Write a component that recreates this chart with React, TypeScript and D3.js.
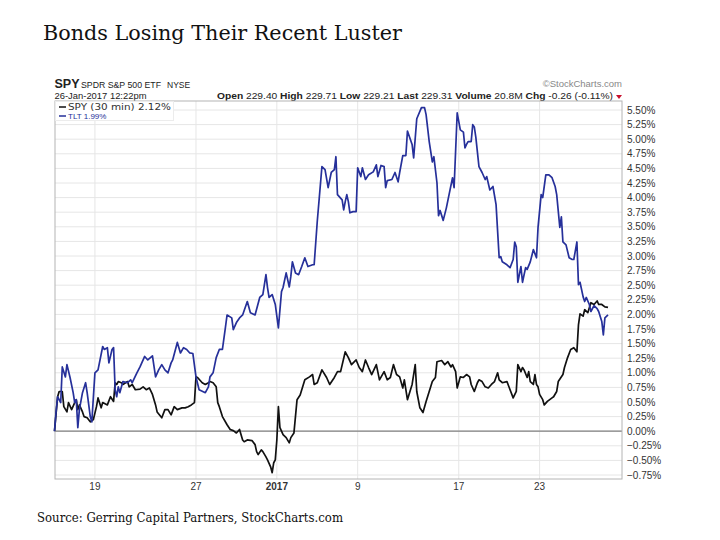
import * as d3 from 'd3'
import React from 'react'

// trading sessions shown on the chart, 30 min bars (13 per session)
const sessions = [
    'Dec 15', 'Dec 16', 'Dec 19', 'Dec 20', 'Dec 21', 'Dec 22', 'Dec 23',
    'Dec 27', 'Dec 28', 'Dec 29', 'Dec 30',
    'Jan 3', 'Jan 4', 'Jan 5', 'Jan 6',
    'Jan 9', 'Jan 10', 'Jan 11', 'Jan 12', 'Jan 13',
    'Jan 17', 'Jan 18', 'Jan 19', 'Jan 20',
    'Jan 23', 'Jan 24', 'Jan 25', 'Jan 26',
]
const barsPerSession = 13

const dateTicks = [
    { session: 'Dec 19', label: '19', bold: false },
    { session: 'Dec 27', label: '27', bold: false },
    { session: 'Jan 3', label: '2017', bold: true },
    { session: 'Jan 9', label: '9', bold: false },
    { session: 'Jan 17', label: '17', bold: false },
    { session: 'Jan 23', label: '23', bold: false },
]

const pctTicks = [
    5.5, 5.25, 5.0, 4.75, 4.5, 4.25, 4.0, 3.75, 3.5, 3.25, 3.0, 2.75, 2.5, 2.25, 2.0,
    1.75, 1.5, 1.25, 1.0, 0.75, 0.5, 0.25, 0.0, -0.25, -0.5, -0.75,
]

// [bar index, % change]
const spy: [number, number][] = [
    [0, 0], [2, 0.59], [3, 0.68], [5, 0.68], [6, 0.42], [8, 0.33], [9, 0.49], [11, 0.37], [13, 0.49],
    [14, 0.54], [15, 0.37], [16, 0.45], [18, 0.33], [19, 0.25], [21, 0.23], [23, 0.16], [25, 0.2],
    [27, 0.42], [28, 0.57], [30, 0.4], [31, 0.49], [34, 0.45], [36, 0.59], [38, 0.51], [39, 0.83],
    [40, 0.8], [41, 0.85], [43, 0.83], [44, 0.8], [47, 0.85], [48, 0.76], [50, 0.8], [52, 0.71],
    [55, 0.72], [57, 0.76], [59, 0.71], [61, 0.74], [63, 0.63], [65, 0.45], [66, 0.33], [69, 0.23],
    [71, 0.37], [73, 0.37], [75, 0.28], [77, 0.42], [79, 0.37], [82, 0.4], [84, 0.4], [86, 0.42],
    [88, 0.45], [90, 0.49], [91, 0.93], [92, 0.92], [95, 0.83], [97, 0.8], [99, 0.83], [100, 0.85],
    [102, 0.83], [104, 0.76], [105, 0.49], [106, 0.42], [108, 0.25], [111, 0.11], [113, 0.03],
    [115, 0.01], [117, -0.03], [119, 0.03], [121, -0.15], [122, -0.18], [124, -0.15], [127, -0.16],
    [129, -0.23], [130, -0.35], [131, -0.4], [133, -0.32], [134, -0.35], [136, -0.44], [137, -0.49],
    [139, -0.61], [140, -0.71], [141, -0.54], [142, -0.49], [143, -0.15], [144, 0.42], [145, 0.06],
    [147, -0.06], [149, -0.11], [151, -0.2], [152, -0.11], [154, -0.03], [156, 0.54], [158, 0.62],
    [161, 0.88], [164, 0.93], [166, 0.97], [167, 0.8], [169, 0.83], [172, 1.05], [175, 0.92],
    [177, 0.8], [180, 0.92], [182, 1.02], [184, 1.02], [187, 1.36], [189, 1.26], [191, 1.14],
    [194, 1.22], [196, 1.09], [198, 1.02], [200, 1.22], [202, 1.09], [204, 0.97], [207, 1.14],
    [209, 0.88], [212, 1.02], [214, 0.88], [216, 0.92], [218, 1.14], [220, 0.97], [222, 0.93],
    [224, 0.74], [225, 0.88], [227, 0.54], [230, 0.8], [232, 1.14], [233, 0.68], [235, 0.4],
    [237, 0.32], [239, 0.51], [241, 0.68], [243, 0.85], [245, 0.92], [246, 1.19], [249, 1.21],
    [251, 1.14], [253, 1.19], [255, 1.1], [256, 1.14], [258, 1.02], [259, 0.74], [261, 0.93],
    [263, 0.92], [265, 0.97], [267, 0.93], [268, 0.8], [270, 0.68], [272, 0.83], [273, 0.88],
    [275, 0.85], [277, 0.76], [279, 0.74], [281, 0.8], [283, 0.85], [285, 1.0], [286, 0.88],
    [288, 0.83], [291, 0.85], [293, 0.71], [295, 0.57], [297, 0.68], [298, 1.14], [300, 1.02],
    [301, 1.09], [302, 1.05], [304, 0.92], [305, 1.02], [306, 0.85], [308, 0.8], [309, 0.97],
    [310, 0.8], [311, 0.76], [312, 0.63], [314, 0.54], [315, 0.45], [317, 0.51], [320, 0.57],
    [321, 0.59], [323, 0.68], [324, 0.85], [327, 0.97], [328, 1.09], [330, 1.26], [332, 1.4],
    [334, 1.43], [336, 1.36], [337, 1.82], [338, 2.01], [340, 1.97], [341, 2.08], [343, 2.03],
    [345, 2.2], [347, 2.17], [349, 2.23], [350, 2.17], [352, 2.17], [354, 2.13], [356, 2.12],
]

const tlt: [number, number][] = [
    [0, 0], [1, 0.33], [2, 0.59], [4, 0.49], [5, 1.1], [7, 0.93], [8, 1.14], [10, 0.92], [12, 0.66],
    [13, 0.49], [14, 0.54], [15, 0.06], [16, 0.37], [18, 0.66], [20, 0.83], [21, 0.66], [23, 0.25],
    [24, 0.16], [26, 1.0], [28, 1.05], [31, 1.45], [32, 1.4], [34, 1.43], [35, 1.17], [37, 1.4],
    [38, 1.43], [39, 0.71], [40, 0.59], [41, 0.76], [42, 0.66], [44, 0.85], [47, 0.83], [49, 0.88],
    [50, 0.83], [53, 1.0], [55, 1.1], [58, 1.28], [60, 1.22], [63, 1.29], [65, 0.93], [67, 1.05],
    [69, 1.14], [71, 1.05], [73, 1.0], [75, 1.17], [76, 1.22], [79, 1.52], [81, 1.34], [83, 1.43],
    [85, 1.4], [87, 1.34], [89, 1.33], [91, 0.93], [93, 0.71], [97, 0.66], [99, 0.76], [100, 0.93],
    [102, 1.0], [104, 1.26], [106, 1.4], [108, 1.4], [110, 1.79], [111, 1.99], [114, 1.94],
    [115, 1.74], [117, 1.86], [119, 1.94], [121, 1.99], [124, 2.22], [126, 2.03], [129, 1.99],
    [132, 2.29], [134, 2.34], [136, 2.68], [137, 2.46], [138, 2.29], [140, 2.34], [142, 2.17],
    [144, 1.77], [146, 2.39], [147, 2.46], [149, 2.71], [151, 2.47], [152, 2.65], [153, 2.9],
    [155, 2.71], [157, 2.68], [159, 2.82], [161, 2.97], [163, 2.82], [166, 2.85], [167, 2.85],
    [169, 3.59], [172, 4.53], [174, 4.48], [176, 4.17], [178, 4.43], [180, 4.48], [181, 4.7],
    [182, 4.05], [185, 3.96], [186, 3.79], [187, 3.93], [188, 4.05], [189, 3.93], [190, 3.74],
    [192, 3.76], [194, 3.76], [195, 4.51], [197, 4.36], [198, 4.51], [200, 4.31], [202, 4.39],
    [205, 4.44], [207, 4.56], [208, 4.36], [210, 4.55], [212, 4.53], [213, 4.17], [214, 4.29],
    [217, 4.31], [219, 4.43], [221, 4.27], [222, 4.43], [224, 4.72], [226, 4.72], [227, 5.14],
    [230, 4.91], [231, 4.68], [233, 5.35], [236, 5.54], [238, 5.54], [239, 5.42], [241, 4.96],
    [243, 4.61], [244, 4.7], [246, 4.25], [247, 3.69], [248, 3.78], [250, 3.61], [252, 3.82],
    [254, 4.08], [256, 4.34], [257, 4.17], [259, 5.45], [261, 5.16], [263, 5.12], [264, 4.85],
    [265, 4.91], [266, 4.96], [268, 4.96], [269, 5.25], [270, 5.21], [271, 5.03], [273, 4.53],
    [275, 4.43], [277, 4.31], [278, 4.36], [280, 4.13], [282, 4.19], [284, 3.88], [286, 2.97],
    [287, 2.99], [288, 2.9], [291, 2.85], [293, 2.8], [295, 2.94], [296, 3.24], [297, 3.16],
    [298, 2.55], [300, 2.82], [301, 2.55], [303, 2.8], [304, 2.77], [306, 2.9], [308, 3.11],
    [310, 2.97], [311, 3.49], [313, 4.05], [314, 4.0], [316, 4.39], [318, 4.39], [320, 4.34],
    [322, 4.19], [323, 4.05], [325, 3.49], [326, 3.67], [327, 3.24], [329, 3.19], [331, 2.97],
    [333, 2.94], [334, 2.94], [336, 3.24], [337, 2.51], [338, 2.55], [340, 2.3], [341, 2.22],
    [342, 2.29], [344, 2.17], [345, 2.05], [347, 2.15], [349, 2.1], [350, 2.05], [352, 1.88],
    [353, 1.65], [354, 1.94], [356, 1.99],
]

const width = 720
const height = 540
const plot = { left: 55, right: 622, top: 101, bottom: 479 }
const sans = 'Liberation Sans, Arial, sans-serif'
const serif = 'DejaVu Serif, Georgia, serif'
const spyColor = '#111111'
const tltColor = '#26309a'

export default function App() {
    const x = d3.scaleLinear().domain([0, 365]).range([54.5, plot.right])
    const y = d3.scaleLinear().domain([-0.75, 5.5]).range([475, 110])
    const line = d3
        .line<[number, number]>()
        .x((d) => x(d[0]))
        .y((d) => y(d[1]))
    const fmt = d3.format('.2f')
    const tickX = (s: string) => x(sessions.indexOf(s) * barsPerSession)

    return (
        <div style={{ position: 'absolute', left: 0, top: 0 }}>
            <svg width={width} height={height} style={{ display: 'block', background: '#fff' }}>
                {/* title */}
                <text x={43} y={39.5} fontFamily={serif} fontSize={20.5} fill="#111" textLength={359} lengthAdjust="spacingAndGlyphs">
                    Bonds Losing Their Recent Luster
                </text>

                {/* stockcharts header */}
                <text x={54.5} y={88} fontFamily={sans} fontSize={12.5} fontWeight="bold" fill="#222">SPY</text>
                <text x={81} y={88} fontFamily={sans} fontSize={9.5} fill="#222" textLength={80} lengthAdjust="spacingAndGlyphs">SPDR S&amp;P 500 ETF</text>
                <text x={167} y={88} fontFamily={sans} fontSize={8.5} fill="#222">NYSE</text>
                <text x={622} y={87} fontFamily={sans} fontSize={9.5} fill="#888" textAnchor="end">©StockCharts.com</text>
                <text x={54.5} y={99} fontFamily={sans} fontSize={9} fill="#222" textLength={92} lengthAdjust="spacingAndGlyphs">26-Jan-2017 12:22pm</text>
                <text x={217} y={99} fontFamily={sans} fontSize={9.5} fill="#222" textLength={396} lengthAdjust="spacingAndGlyphs">
                    <tspan fontWeight="bold">Open</tspan> 229.40 <tspan fontWeight="bold">High</tspan> 229.71{' '}
                    <tspan fontWeight="bold">Low</tspan> 229.21 <tspan fontWeight="bold">Last</tspan> 229.31{' '}
                    <tspan fontWeight="bold">Volume</tspan> 20.8M <tspan fontWeight="bold">Chg</tspan> -0.26 (-0.11%)
                </text>
                <path d="M616,95 L622,95 L619,99 Z" fill="#c8102e" />

                {/* grid */}
                {pctTicks.map((t) => (
                    <line key={'h' + t} x1={plot.left} x2={plot.right} y1={y(t)} y2={y(t)} stroke="#e6e6e6" />
                ))}
                {dateTicks.map((t) => (
                    <line key={'v' + t.label} x1={tickX(t.session)} x2={tickX(t.session)} y1={plot.top} y2={plot.bottom} stroke="#e6e6e6" />
                ))}
                <line x1={plot.left} x2={plot.right} y1={y(0)} y2={y(0)} stroke="#808080" strokeWidth={1.2} />
                <rect x={plot.left} y={plot.top} width={plot.right - plot.left} height={plot.bottom - plot.top} fill="none" stroke="#b4b4b4" />

                {/* series */}
                <path d={line(spy) || ''} fill="none" stroke={spyColor} strokeWidth={1.7} strokeLinejoin="round" />
                <path d={line(tlt) || ''} fill="none" stroke={tltColor} strokeWidth={1.7} strokeLinejoin="round" />

                {/* legend */}
                <rect x={plot.left + 0.5} y={plot.top + 0.5} width={118} height={19} fill="#fff" stroke="#ececec" />
                <line x1={59} x2={66} y1={107} y2={107} stroke={spyColor} strokeWidth={1.5} />
                <text x={68} y={110} fontFamily="DejaVu Sans, sans-serif" fontSize={8.5} fill="#333" textLength={103} lengthAdjust="spacingAndGlyphs">SPY (30 min) 2.12%</text>
                <line x1={59} x2={66} y1={116} y2={116} stroke={tltColor} strokeWidth={1.5} />
                <text x={68} y={119} fontFamily={sans} fontSize={8} fill={tltColor}>TLT 1.99%</text>

                {/* right axis */}
                {pctTicks.map((t) => (
                    <text key={'yl' + t} x={627} y={y(t)} dy="0.35em" fontFamily={sans} fontSize={10} fill="#333">
                        {fmt(t) + '%'}
                    </text>
                ))}

                {/* date axis */}
                {dateTicks.map((t) => (
                    <text key={'xl' + t.label} x={tickX(t.session)} y={490} textAnchor="middle" fontFamily={sans} fontSize={10} fontWeight={t.bold ? 'bold' : 'normal'} fill="#333">
                        {t.label}
                    </text>
                ))}

                {/* source */}
                <text x={37} y={522} fontFamily={serif} fontSize={12.5} fill="#111" textLength={306} lengthAdjust="spacingAndGlyphs">
                    Source: Gerring Capital Partners, StockCharts.com
                </text>
            </svg>
        </div>
    )
}
